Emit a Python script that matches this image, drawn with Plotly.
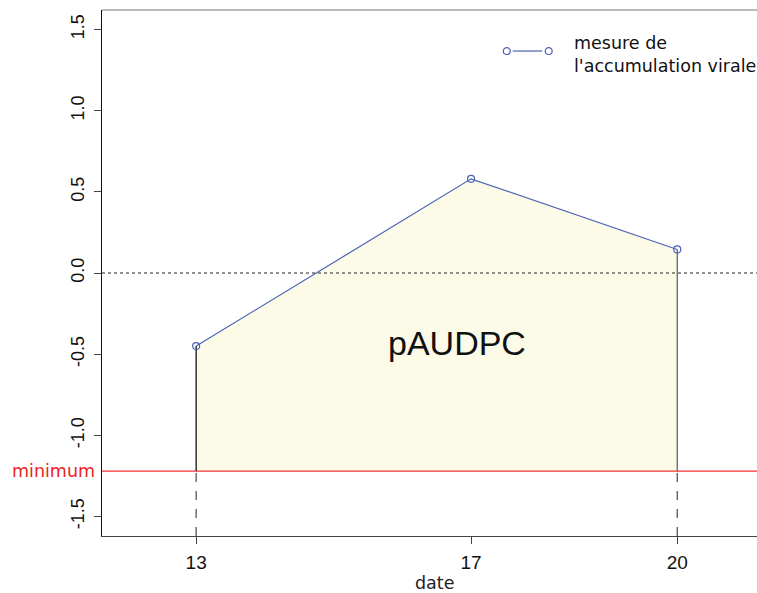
import plotly.graph_objects as go

dates = [13, 17, 20]
values = [-0.45, 0.58, 0.145]
minimum = -1.22
y_range = [-1.62, 1.62]
x_range = [11.63, 21.16]
yticks = [-1.5, -1.0, -0.5, 0.0, 0.5, 1.0, 1.5]
xticks = [13, 17, 20]

blue = "#4d62b7"
fig = go.Figure()

# filled area between minimum and curve
fig.add_trace(go.Scatter(
    x=[dates[0]] + dates + [dates[-1]],
    y=[minimum] + values + [minimum],
    fill="toself", fillcolor="#fbfbe7", line=dict(width=0, color="rgba(0,0,0,0)"),
    mode="lines", hoverinfo="skip", showlegend=False))

# zero dotted line
fig.add_trace(go.Scatter(x=x_range, y=[0, 0], mode="lines",
                         line=dict(color="#222", width=1, dash="dot"), showlegend=False))
# minimum red line
fig.add_trace(go.Scatter(x=x_range, y=[minimum, minimum], mode="lines",
                         line=dict(color="#f03232", width=1.2), showlegend=False))

# vertical lines at first and last dates
for d, v, c in [(dates[0], values[0], "#111"), (dates[-1], values[-1], "#666")]:
    fig.add_trace(go.Scatter(x=[d, d], y=[minimum, v], mode="lines",
                             line=dict(color=c, width=1.3), showlegend=False))
    fig.add_trace(go.Scatter(x=[d, d], y=[y_range[0], minimum], mode="lines",
                             line=dict(color="#555", width=1.3, dash="dash"), showlegend=False))

# measurement curve
fig.add_trace(go.Scatter(x=dates, y=values, mode="lines+markers",
                         line=dict(color=blue, width=1.2),
                         marker=dict(symbol="circle-open", size=7, color=blue, line=dict(width=1.2)),
                         showlegend=False))

# custom legend
ly = 0.922
fig.add_shape(type="line", xref="paper", yref="paper", x0=0.627, x1=0.672, y0=ly, y1=ly,
              line=dict(color=blue, width=1.2))
for lx in [0.618, 0.682]:
    fig.add_shape(type="circle", xref="paper", yref="paper",
                  x0=lx - 0.0053, x1=lx + 0.0053, y0=ly - 0.0066, y1=ly + 0.0066,
                  line=dict(color=blue, width=1.2), fillcolor="white")
fig.add_annotation(xref="paper", yref="paper", x=0.717, y=ly, xanchor="left", yanchor="middle",
                   yshift=-3, text="mesure de<br>l'accumulation virale", showarrow=False, align="left",
                   font=dict(family="DejaVu Sans", size=17.5, color="#111"))

# top border
fig.add_shape(type="line", xref="paper", yref="paper", x0=0, x1=1, y0=1, y1=1,
              line=dict(color="#777", width=1))

fig.add_annotation(x=16.8, y=-0.43, text="pAUDPC", showarrow=False,
                   font=dict(family="Liberation Sans", size=34, color="#111"))
fig.add_annotation(xref="paper", x=0, y=minimum, xanchor="right", xshift=-5,
                   text="minimum", showarrow=False,
                   font=dict(family="DejaVu Sans", size=17.5, color="#ee2222"))
fig.add_annotation(xref="paper", yref="paper", x=0.507, y=-0.089, yanchor="middle",
                   text="date", showarrow=False,
                   font=dict(family="DejaVu Sans", size=17.5, color="#222"))

fig.update_layout(
    width=757, height=593,
    margin=dict(l=102, r=0, t=10, b=57),
    plot_bgcolor="white", paper_bgcolor="white",
    xaxis=dict(range=x_range, tickvals=xticks, ticktext=[str(t) for t in xticks],
               showgrid=False, zeroline=False, showline=True, linecolor="#444", linewidth=1,
               ticks="outside", ticklen=7, tickcolor="#444", ticklabelstandoff=2,
               tickfont=dict(family="Liberation Sans", size=19, color="#111")),
    yaxis=dict(range=y_range, tickvals=yticks, ticktext=[f"{t:.1f}" for t in yticks],
               showgrid=False, zeroline=False, showline=True, linecolor="#111", linewidth=1,
               ticks="outside", ticklen=7, tickcolor="#444", tickangle=-90, ticklabelstandoff=3,
               tickfont=dict(family="Liberation Sans", size=18, color="#111")),
)

fig.write_html("out.html", config={"displayModeBar": False},
               post_script="document.body.style.margin='0';document.body.style.overflow='hidden';")
